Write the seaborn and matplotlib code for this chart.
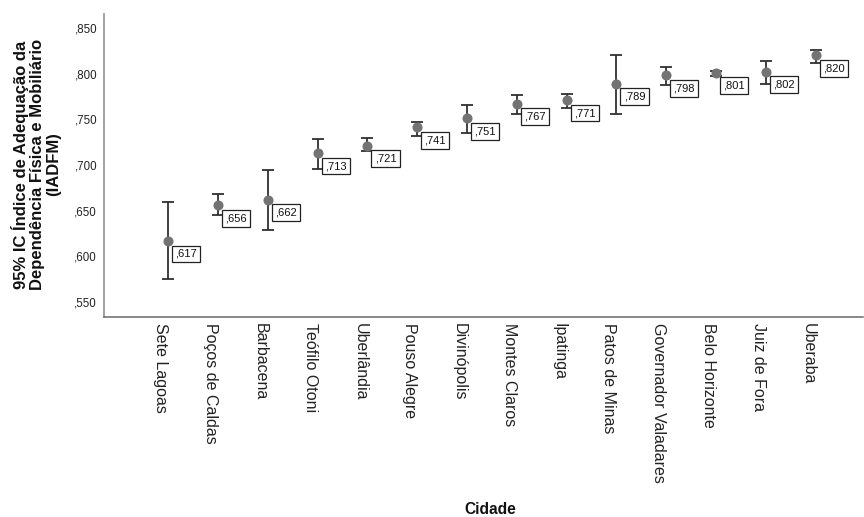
import matplotlib
matplotlib.use("Agg")
import matplotlib.pyplot as plt
import seaborn as sns
import pandas as pd

cities = ["Sete Lagoas", "Poços de Caldas", "Barbacena", "Teófilo Otoni", "Uberlândia",
          "Pouso Alegre", "Divinópolis", "Montes Claros", "Ipatinga", "Patos de Minas",
          "Governador Valadares", "Belo Horizonte", "Juiz de Fora", "Uberaba"]
means = [0.617, 0.656, 0.662, 0.713, 0.721, 0.741, 0.751, 0.767, 0.771, 0.789,
         0.798, 0.801, 0.802, 0.820]
lower = [0.575, 0.645, 0.629, 0.696, 0.715, 0.732, 0.735, 0.756, 0.762, 0.756,
         0.787, 0.797, 0.788, 0.812]
upper = [0.659, 0.668, 0.694, 0.728, 0.729, 0.747, 0.766, 0.777, 0.778, 0.820,
         0.807, 0.803, 0.814, 0.826]
yticks = [0.55, 0.60, 0.65, 0.70, 0.75, 0.80, 0.85]
ytick_labels = [",550", ",600", ",650", ",700", ",750", ",800", ",850"]

sns.set_theme(style="white")
plt.rcParams["font.family"] = ["Liberation Sans", "DejaVu Sans"]

df = pd.DataFrame({"Cidade": cities, "Média": means, "Inf": lower, "Sup": upper})

fig = plt.figure(figsize=(8.64, 5.17), dpi=100)
ax = fig.add_axes([0.1204, 0.3868, 0.8784, 0.5861])

sns.pointplot(data=df, x="Cidade", y="Média", order=cities, errorbar=None,
              linestyle="none", color="#737373", markers="o", markersize=5.2,
              ax=ax, zorder=4)

xpos = list(range(len(cities)))
yerr = [[m - l for m, l in zip(means, lower)], [u - m for m, u in zip(means, upper)]]
ax.errorbar(xpos, means, yerr=yerr, fmt="none", ecolor="#303030", elinewidth=1.3,
            capsize=4.4, capthick=1.3, zorder=3)

for x, m in zip(xpos, means):
    ax.annotate(f",{int(round(m * 1000)):03d}", xy=(x, m), xytext=(5.2, -5.8),
                textcoords="offset points", ha="left", va="top", fontsize=8.0,
                color="#111111", zorder=5,
                bbox=dict(boxstyle="square,pad=0.3", facecolor="white",
                          edgecolor="#222222", linewidth=0.9))

ax.set_xlim(-1.29, 13.95)
ax.set_ylim(0.5336, 0.8651)
ax.set_yticks(yticks)
ax.set_yticklabels(ytick_labels, fontsize=8.3, color="#222222")
ax.set_xticks(xpos)
ax.set_xticklabels(cities, rotation=270, ha="right", va="top", fontsize=11.5,
                   color="#222222")
ax.tick_params(axis="both", length=0)
ax.tick_params(axis="y", pad=5)
ax.tick_params(axis="x", pad=4)

for s in ["top", "right"]:
    ax.spines[s].set_visible(False)
ax.spines["left"].set_color("#9a9a9a")
ax.spines["left"].set_linewidth(1.3)
ax.spines["bottom"].set_color("#6a6a6a")
ax.spines["bottom"].set_linewidth(1.1)

ax.set_xlabel("")
ax.set_ylabel("")
fig.text(0.0415, 0.682,
         "95% IC Índice de Adequação da\nDependência Física e Mobiliário\n(IADFM)",
         rotation=90, ha="center", va="center", fontsize=12, fontweight="bold",
         linespacing=1.08, color="#111111")
fig.text(490 / 864, 1 - 510 / 517, "Cidade", ha="center", va="center",
         fontsize=11.2, fontweight="bold", color="#111111")

fig.savefig("out.png", dpi=100)
